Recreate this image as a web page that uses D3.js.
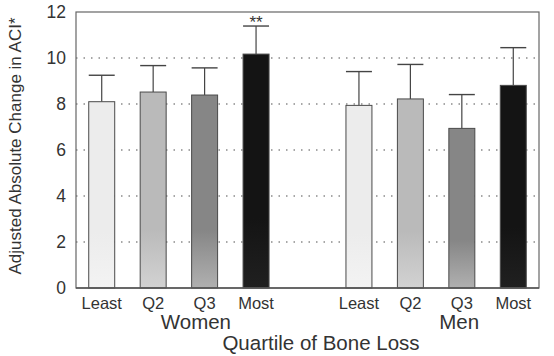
<!DOCTYPE html>
<html>
<head>
<meta charset="utf-8">
<script src="https://cdn.jsdelivr.net/npm/d3@7"></script>
<style>
  body { margin: 0; background: #fff; }
  svg { font-family: "Liberation Sans", Arial, sans-serif; }
</style>
</head>
<body>
<svg id="chart" width="554" height="356"></svg>
<script>
// quartile categories and the two groups
var quartiles = ["Least", "Q2", "Q3", "Most"];
var groups = ["Women", "Men"];
var women_Means = [8.1, 8.52, 8.39, 10.17];
var women_Errors = [1.15, 1.15, 1.18, 1.22];
var men_Means = [7.94, 8.22, 6.94, 8.81];
var men_Errors = [1.47, 1.5, 1.47, 1.64];
var y_Ticks = [0, 2, 4, 6, 8, 10, 12];
var fills = ["#ececec", "#bababa", "#868686", "#141414"];

var margin = { left: 76, top: 12, right: 15, bottom: 68 };
var width = 554 - margin.left - margin.right;
var height = 356 - margin.top - margin.bottom;

// 9 slots: 4 women, 1 empty gap, 4 men
var slots = [];
var bars = [];
quartiles.forEach(function(q, i) {
    slots.push("W" + i);
    bars.push({ slot: "W" + i, q: i, mean: women_Means[i], err: women_Errors[i] });
});
slots.push("gap");
quartiles.forEach(function(q, i) {
    slots.push("M" + i);
    bars.push({ slot: "M" + i, q: i, mean: men_Means[i], err: men_Errors[i] });
});

var svg = d3.select("#chart");
var g = svg.append("g").attr("transform", "translate(" + margin.left + "," + margin.top + ")");

var x = d3.scaleBand().domain(slots).range([0, width]).paddingInner(0.495).paddingOuter(0.2475);
var y = d3.scaleLinear().domain([0, 12]).range([height, 0]);

// gradient so the bars get a bit lighter near the bottom, like the scan
var defs = svg.append("defs");
fills.forEach(function(c, i) {
    var grad = defs.append("linearGradient").attr("id", "grad" + i)
        .attr("x1", 0).attr("y1", 0).attr("x2", 0).attr("y2", 1);
    grad.append("stop").attr("offset", "0%").attr("stop-color", c);
    grad.append("stop").attr("offset", "70%").attr("stop-color", c);
    grad.append("stop").attr("offset", "100%").attr("stop-color", d3.interpolateRgb(c, "#fff")(i == 3 ? 0.05 : 0.35));
});

// dotted grid lines
g.selectAll(".grid")
    .data(y_Ticks.filter(function(d) { return d > 0 && d < 12; }))
    .enter().append("line")
    .attr("x1", 0).attr("x2", width)
    .attr("y1", function(d) { return y(d); })
    .attr("y2", function(d) { return y(d); })
    .attr("stroke", "#8a8a8a")
    .attr("stroke-width", 1.3)
    .attr("stroke-dasharray", "1.5,6");

// error bars (upper only)
var eb = g.selectAll(".err").data(bars).enter().append("g");
eb.append("line")
    .attr("x1", function(d) { return x(d.slot) + x.bandwidth() / 2; })
    .attr("x2", function(d) { return x(d.slot) + x.bandwidth() / 2; })
    .attr("y1", function(d) { return y(d.mean); })
    .attr("y2", function(d) { return y(d.mean + d.err); })
    .attr("stroke", "#444").attr("stroke-width", 1.2);
eb.append("line")
    .attr("x1", function(d) { return x(d.slot); })
    .attr("x2", function(d) { return x(d.slot) + x.bandwidth(); })
    .attr("y1", function(d) { return y(d.mean + d.err); })
    .attr("y2", function(d) { return y(d.mean + d.err); })
    .attr("stroke", "#444").attr("stroke-width", 1.4);

// bars
g.selectAll(".bar").data(bars).enter().append("rect")
    .attr("x", function(d) { return x(d.slot); })
    .attr("y", function(d) { return y(d.mean); })
    .attr("width", x.bandwidth())
    .attr("height", function(d) { return height - y(d.mean); })
    .attr("fill", function(d) { return "url(#grad" + d.q + ")"; })
    .attr("stroke", "#4a4a4a")
    .attr("stroke-width", 1);

// frame
g.append("rect")
    .attr("x", 0).attr("y", 0).attr("width", width).attr("height", height)
    .attr("fill", "none").attr("stroke", "#666").attr("stroke-width", 1.2);
g.append("line")
    .attr("x1", 0).attr("x2", width).attr("y1", height).attr("y2", height)
    .attr("stroke", "#555").attr("stroke-width", 1.6);

// y axis labels
var yAxis = d3.axisLeft(y).tickValues(y_Ticks).tickSize(0).tickPadding(10);
var ya = g.append("g").call(yAxis);
ya.select(".domain").remove();
ya.selectAll("text").attr("font-size", 17.5).attr("fill", "#333").attr("font-family", null);

// x axis labels
var xAxis = d3.axisBottom(x).tickSize(0).tickPadding(9)
    .tickFormat(function(d) { return d == "gap" ? "" : quartiles[+d.slice(1)]; });
var xa = g.append("g").attr("transform", "translate(0," + height + ")").call(xAxis);
xa.select(".domain").remove();
xa.selectAll("text").attr("font-size", 16.5).attr("fill", "#333").attr("font-family", null);

// group names
var group_Offsets = [17, 23];
groups.forEach(function(name, i) {
    var first = x((i == 0 ? "W" : "M") + 0);
    var last = x((i == 0 ? "W" : "M") + 3) + x.bandwidth();
    g.append("text")
        .attr("x", (first + last) / 2 + group_Offsets[i])
        .attr("y", height + 41)
        .attr("text-anchor", "middle")
        .attr("font-size", 20.5)
        .attr("fill", "#333")
        .text(name);
});

// significance mark
var most = bars[3];
g.append("text")
    .attr("x", x(most.slot) + x.bandwidth() / 2)
    .attr("y", y(most.mean + most.err) + 2)
    .attr("text-anchor", "middle")
    .attr("font-size", 17)
    .attr("fill", "#333")
    .text("**");

// axis titles
svg.append("text")
    .attr("x", 321).attr("y", 350)
    .attr("text-anchor", "middle")
    .attr("font-size", 20.5)
    .attr("fill", "#333")
    .text("Quartile of Bone Loss");

svg.append("text")
    .attr("transform", "translate(21,146) rotate(-90)")
    .attr("text-anchor", "middle")
    .attr("font-size", 17)
    .attr("fill", "#333")
    .text("Adjusted Absolute Change in ACI*");
</script>
</body>
</html>
